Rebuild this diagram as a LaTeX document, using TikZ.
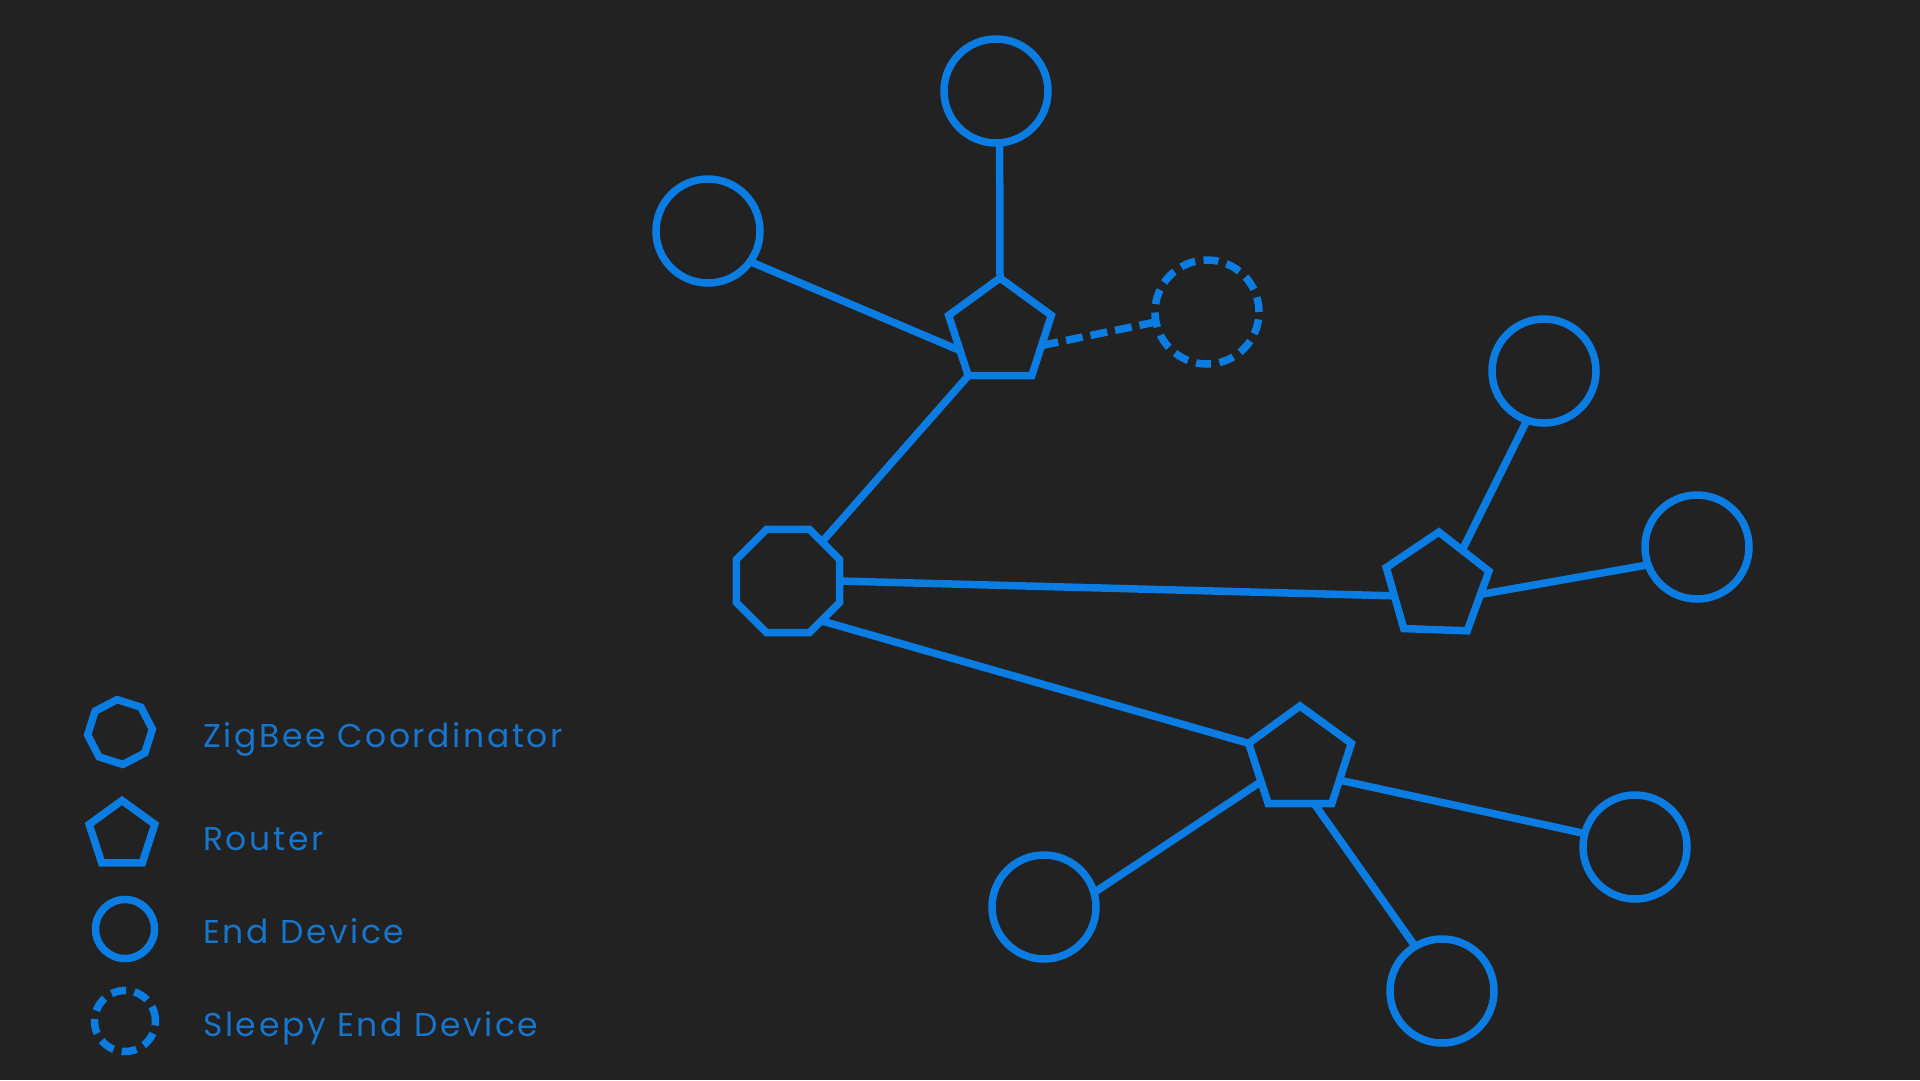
\documentclass[tikz,border=0pt]{standalone}
\usepackage{fontspec}
\setmainfont{Poppins}[LetterSpace=8]
\usetikzlibrary{shapes.geometric}
\definecolor{bg}{HTML}{222222}
\definecolor{zb}{HTML}{0A7CE2}
\definecolor{zbtext}{HTML}{1775CC}
\begin{document}
\begin{tikzpicture}[x=1pt,y=-1pt,
  base/.style={draw=zb, line width=7.5pt, inner sep=0pt, outer sep=0pt},
  coord/.style={base, regular polygon, regular polygon sides=8, minimum size=112pt},
  router/.style={base, regular polygon, regular polygon sides=5, minimum size=108pt},
  enddev/.style={base, circle, minimum size=104pt},
  sleepy/.style={enddev, dash pattern=on 15pt off 8.4pt},
  link/.style={draw=zb, line width=7.5pt},
  sleeplink/.style={link, dash pattern=on 17pt off 8pt},
  legtext/.style={anchor=base west, text=zbtext, font=\fontsize{33}{40}\selectfont, inner sep=0pt}
]
\fill[bg] (0,0) rectangle (1920,1080);
\useasboundingbox (0,0) rectangle (1920,1080);

% network nodes
\node[coord] (C) at (788,581) {};
\node[router] (R1) at (1000,332) {};
\node[router, shape border rotate=-2] (R2) at (1437,586) {};
\node[router] (R3) at (1300,760) {};
\node[enddev] (E1) at (996,91) {};
\node[enddev] (E2) at (708,231) {};
\node[sleepy] (S) at (1207,312) {};
\node[enddev] (E3) at (1544,371) {};
\node[enddev] (E4) at (1697,547) {};
\node[enddev] (E5) at (1635,847) {};
\node[enddev] (E6) at (1442,991) {};
\node[enddev] (E7) at (1044,907) {};

% connectors
\draw[link] (R1.corner 1) -- (E1.-86);
\draw[link] (R1.205) -- (E2.-36);
\draw[sleeplink] (R1.-18) -- (S.191);
\draw[link] (R1.corner 3) -- (C.49);
\draw[link] (C.0) -- (R2.193);
\draw[link] (C.-50) -- (R3.corner 2);
\draw[link] (R2.55) -- (E3.251);
\draw[link] (R2.-11) -- (E4.200);
\draw[link] (R3.209) -- (E7.16);
\draw[link] (R3.-72) -- (E6.121);
\draw[link] (R3.-27) -- (E5.165);

% legend
\node[coord, minimum size=65pt, shape border rotate=-17.5] (LC) at (120,732) {};
\node[router, minimum size=69pt] (LR) at (122,835) {};
\node[enddev, minimum size=59pt] (LE) at (125,929) {};
\node[sleepy, minimum size=61pt] (LS) at (125,1021) {};
\node[legtext] (TC) at (203,747) {ZigBee Coordinator};
\node[legtext] (TR) at (203,850) {Router};
\node[legtext] (TE) at (203,943) {End Device};
\node[legtext] (TS) at (203,1036) {Sleepy End Device};
\end{tikzpicture}
\end{document}
